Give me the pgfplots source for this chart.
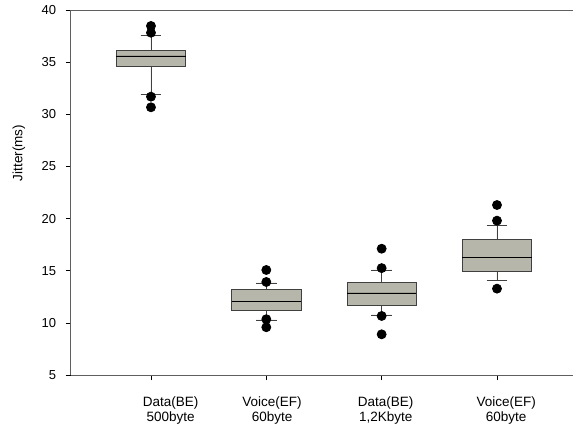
\documentclass[border=0pt]{standalone}
\usepackage{fontspec}
\setmainfont{Liberation Sans}
\usepackage{pgfplots}
\pgfplotsset{compat=1.18}
\usepgfplotslibrary{statistics}
\definecolor{boxfill}{RGB}{182,182,170}
\definecolor{axgray}{RGB}{95,95,95}
\pgfplotsset{
  mybox/.style={solid, draw=black!75, fill=boxfill, line width=0.8pt,
    mark=*, mark size=4.5pt, mark options={solid, fill=black, draw=black}},
}
\begin{document}
\begin{tikzpicture}
\useasboundingbox (-70.7pt,-56pt) rectangle (502.3pt,375pt);
\begin{axis}[at={(0,0)}, anchor=south west, scale only axis,
  width=502.3pt, height=365pt,
  xmin=0.304, xmax=4.659, ymin=5, ymax=40,
  axis lines=left, axis line style={-, axgray, line width=0.9pt},
  ytick={5,10,...,40}, xtick={1,2,3,4}, xticklabels={},
  tick align=outside, major tick length=5pt,
  tick style={black, line width=0.6pt},
  /pgf/number format/assume math mode=true,
  yticklabel style={font=\fontsize{13}{15}\selectfont, xshift=-6pt},
  extra x ticks={1.17,2.05,3.035,4.08},
  extra x tick labels={{Data(BE)\\500byte},{Voice(EF)\\60byte},{Data(BE)\\1,2Kbyte},{Voice(EF)\\60byte}},
  extra x tick style={major tick length=0pt, xticklabel style={align=center, font=\fontsize{13.5}{15}\selectfont, yshift=-18pt}},
  every axis y label/.style={at={(axis description cs:0,0.608)}, xshift=-51.7pt, rotate=90, anchor=center, font=\fontsize{13.5}{15}\selectfont},
  ylabel={Jitter(ms)},
  boxplot/draw direction=y,
  boxplot/box extend=0.6,
  boxplot/whisker extend=0.18,
  boxplot/every median/.style={black, line width=0.8pt},
  clip=false,
]
\addplot+[mybox,
  boxplot prepared={draw position=1, median=35.59, upper quartile=36.17, lower quartile=34.63, upper whisker=37.57, lower whisker=31.88}]
  table[row sep=\\, y index=0] {38.47\\ 37.82\\ 31.69\\ 30.67\\};
\addplot+[mybox,
  boxplot prepared={draw position=2, median=12.07, upper quartile=13.22, lower quartile=11.17, upper whisker=13.83, lower whisker=10.28}]
  table[row sep=\\, y index=0] {15.07\\ 13.92\\ 10.35\\ 9.58\\};
\addplot+[mybox,
  boxplot prepared={draw position=3, median=12.87, upper quartile=13.85, lower quartile=11.69, upper whisker=15.07, lower whisker=10.76}]
  table[row sep=\\, y index=0] {17.11\\ 15.25\\ 10.66\\ 8.9\\};
\addplot+[mybox,
  boxplot prepared={draw position=4, median=16.29, upper quartile=18.02, lower quartile=14.98, upper whisker=19.36, lower whisker=14.05}]
  table[row sep=\\, y index=0] {21.30\\ 19.80\\ 13.28\\};
\draw[axgray, line width=0.9pt] (rel axis cs:0,1) -- (rel axis cs:1,1);
\end{axis}
\end{tikzpicture}
\end{document}
